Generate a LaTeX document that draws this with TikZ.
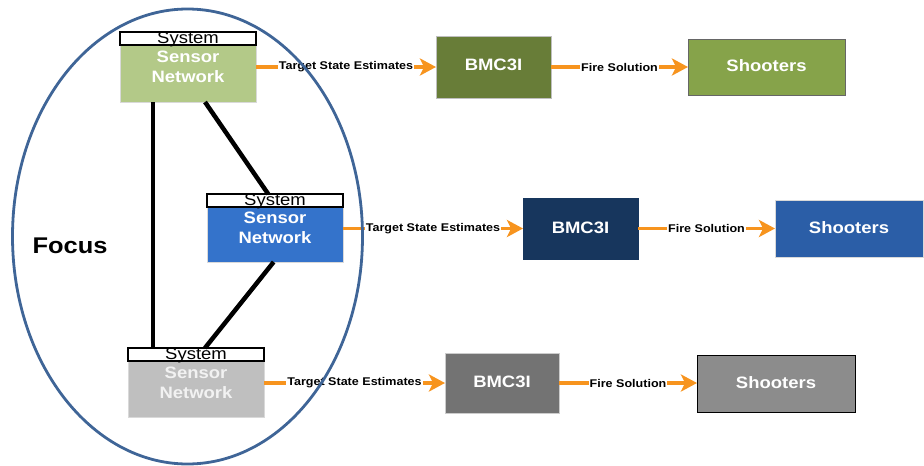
\documentclass[tikz,border=0pt]{standalone}
\usepackage{fontspec}
\setmainfont{Liberation Sans}
\newfontfamily\widefont[FakeStretch=1.12]{Liberation Sans}
\usetikzlibrary{arrows.meta,calc,shapes.geometric}
\definecolor{sgreen}{HTML}{B3C988}
\definecolor{bgreen}{HTML}{687D38}
\definecolor{shgreen}{HTML}{86A34A}
\definecolor{sblue}{HTML}{3473CB}
\definecolor{bblue}{HTML}{17365D}
\definecolor{shblue}{HTML}{2B5EA7}
\definecolor{sgray}{HTML}{BFBFBF}
\definecolor{bgray}{HTML}{737373}
\definecolor{shgray}{HTML}{8C8C8C}
\definecolor{ellblue}{HTML}{3F6597}
\definecolor{flowor}{HTML}{F7941E}
\tikzset{
  box/.style={rectangle, inner sep=0pt, outer sep=0pt, anchor=north west, draw=black!15, line width=1pt},
  header/.style={rectangle, inner sep=0pt, outer sep=0pt, anchor=south west, draw=black, fill=white, line width=1.2pt, minimum height=13pt},
  systxt/.style={anchor=base, inner sep=0pt, font=\widefont\fontsize{16.5}{18}\selectfont},
  sntxt/.style={align=center, inner sep=0pt, text=white, font=\widefont\bfseries\fontsize{16.5}{20}\selectfont},
  whitetxt/.style={inner sep=0pt, text=white, font=\widefont\bfseries\fontsize{16.5}{18}\selectfont},
  flow/.style={draw=flowor, line width=3.5pt, -{Stealth[length=16pt,width=17pt,inset=4pt]}},
  lab/.style={midway, fill=white, inner sep=1pt, text=black, font=\widefont\bfseries\fontsize{11.2}{12}\selectfont},
  link/.style={draw=black, line width=4.5pt},
}
\begin{document}
\begin{tikzpicture}[x=1pt,y=-1pt]
\useasboundingbox (0,0) rectangle (924,466);
% top row
\node[box, fill=sgreen, minimum width=136pt, minimum height=57pt] (sn1) at (120,45) {};
\node[header, minimum width=136pt] (h1) at (sn1.north west) {};
\node[systxt] (t1) at ($(h1.south)+(0,-1.5)$) {System};
\node[sntxt] (s1) at (188,67) {Sensor\\Network};
\node[box, fill=bgreen, draw=black!25, minimum width=115pt, minimum height=62pt] (b1) at (436,36) {};
\node[whitetxt] (bt1) at ($(b1.center)+(0,-2)$) {BMC3I};
\node[box, fill=shgreen, draw=black!60, minimum width=157pt, minimum height=56pt] (sh1) at (688,39) {};
\node[whitetxt] (st1) at ($(sh1.center)+(0,-1)$) {Shooters};
% middle row
\node[box, fill=sblue, minimum width=136pt, minimum height=55pt] (sn2) at (207,207) {};
\node[header, minimum width=136pt] (h2) at (sn2.north west) {};
\node[systxt] (t2) at ($(h2.south)+(0,-1.5)$) {System};
\node[sntxt] (s2) at (275,228) {Sensor\\Network};
\node[box, fill=bblue, draw=bblue, minimum width=115pt, minimum height=61pt] (b2) at (523,198) {};
\node[whitetxt] (bt2) at ($(b2.center)+(0,-1)$) {BMC3I};
\node[box, fill=shblue, draw=black!15, minimum width=148pt, minimum height=57pt] (sh2) at (775,200) {};
\node[whitetxt] (st2) at ($(sh2.center)+(0,-1)$) {Shooters};
% bottom row
\node[box, fill=sgray, minimum width=136pt, minimum height=56pt] (sn3) at (128,361) {};
\node[header, minimum width=136pt] (h3) at (sn3.north west) {};
\node[systxt] (t3) at ($(h3.south)+(0,-1.5)$) {System};
\node[sntxt, text=white!95!black] (s3) at (196,382.5) {Sensor\\Network};
\node[box, fill=bgray, draw=black!20, minimum width=114pt, minimum height=60pt] (b3) at (445,353) {};
\node[whitetxt] (bt3) at ($(b3.center)+(0,-1)$) {BMC3I};
\node[box, fill=shgray, draw=black, minimum width=158pt, minimum height=57pt] (sh3) at (697,355) {};
\node[whitetxt] (st3) at ($(sh3.center)+(0,-1)$) {Shooters};
% flows
\draw[flow] (b1.west -| sn1.east) -- node[lab] {Target State Estimates} (b1.west);
\draw[flow] (b1.east) -- node[lab] {Fire Solution} (b1.east -| sh1.west);
\draw[flow] (b2.west -| sn2.east) -- node[lab] {Target State Estimates} (b2.west);
\draw[flow] (b2.east) -- node[lab] {Fire Solution} (b2.east -| sh2.west);
\draw[flow] (b3.west -| sn3.east) -- node[lab] {Target State Estimates} (b3.west);
\draw[flow] (b3.east) -- node[lab] {Fire Solution} (b3.east -| sh3.west);
% links
\coordinate (l1a) at ($(sn1.south west)+(33,0)$);
\draw[link] (l1a) -- (l1a |- h3.north);
\draw[link] ($(sn1.south west)!0.625!(sn1.south east)$) -- ($(h2.north west)!0.45!(h2.north east)$);
\draw[link] ($(sn2.south west)!0.49!(sn2.south east)$) -- ($(h3.north west)!0.566!(h3.north east)$);
% focus ellipse
\node[ellipse, draw=ellblue, line width=2.8pt, minimum width=350pt, minimum height=455pt, inner sep=0pt] (focus) at (187.5,236.5) {};
\node[inner sep=0pt, font=\widefont\bfseries\fontsize{22.7}{24}\selectfont] (ftxt) at (70,246) {Focus};
\end{tikzpicture}
\end{document}
